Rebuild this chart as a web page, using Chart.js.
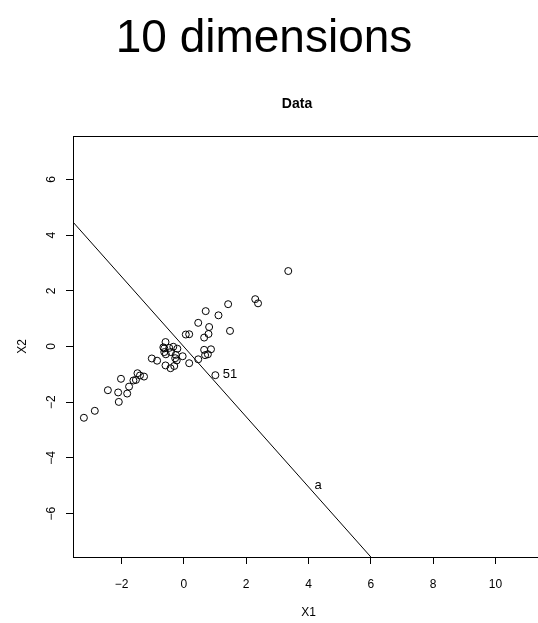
<!DOCTYPE html>
<html lang="en">

<head>
    <meta charset="UTF-8">
    <title>10 dimensions</title>
    <script src="https://cdn.jsdelivr.net/npm/chart.js"></script>
    <style>
        html, body {
            margin: 0;
            padding: 0;
            background-color: #ffffff;
            overflow: hidden;
            width: 538px;
            height: 623px;
        }
        
        #chart {
            display: block;
        }
    </style>
</head>

<body>
    <canvas id="chart" width="560" height="623"></canvas>

    <script>
        // Data
        const ptX = [-3.21, -2.86, -2.44, -2.11, -2.09, -2.02, -1.82, -1.76, -1.62, -1.54,
            -1.49, -1.41, -1.28, -1.03, -0.86, -0.59, -0.66, -0.63, -0.47, -0.34,
            -0.21, -0.58, -0.26, -0.04, -0.28, -0.23, -0.59, -0.43, -0.31, 0.17,
            -0.42, 0.06, 0.17, 0.46, 0.81, 0.65, 0.79, 1.48, 0.70, 1.11,
            1.42, 0.46, 0.65, 0.87, 0.68, 0.77, 2.29, 2.38, 3.35, -0.63, 1.01];
        const ptY = [-2.56, -2.31, -1.57, -1.65, -1.99, -1.16, -1.69, -1.44, -1.22, -1.20,
            -0.96, -1.04, -1.08, -0.43, -0.51, 0.16, -0.03, -0.07, -0.05, -0.01,
            -0.08, -0.28, -0.30, -0.35, -0.42, -0.50, -0.68, -0.78, -0.70, -0.60,
            -0.20, 0.43, 0.44, 0.85, 0.70, 0.32, 0.45, 0.56, 1.27, 1.12,
            1.52, -0.46, -0.12, -0.10, -0.31, -0.28, 1.70, 1.55, 2.71, -0.20, -1.03];

        // the separating line "a"
        const lineX = [-3.6, 6.05];
        const lineY = [4.52, -7.62];

        // text labels in the plot
        const noteText = ['51', 'a'];
        const noteX = [1.48, 4.31];
        const noteY = [-1.02, -5.0];

        const xTicks = [-2, 0, 2, 4, 6, 8, 10];
        const yTicks = [-6, -4, -2, 0, 2, 4, 6];
        const xRange = [-3.56, 11.56];
        const yRange = [-7.56, 7.56];

        const FONT = '"Liberation Sans", Arial, Helvetica, sans-serif';
        const minus = v => String(v).replace('-', '\u2212');

        // titles, box and point labels
        const extras = {
            id: 'extras',
            afterDraw(chart) {
                const ctx = chart.ctx;
                const a = chart.chartArea;
                const xs = chart.scales.x;
                const ys = chart.scales.y;
                ctx.save();
                ctx.strokeStyle = '#000';
                ctx.lineWidth = 1;
                ctx.strokeRect(Math.round(a.left) + 0.5, Math.round(a.top) + 0.5,
                    Math.round(a.right - a.left), Math.round(a.bottom - a.top));

                ctx.fillStyle = '#000';
                ctx.textAlign = 'center';
                ctx.textBaseline = 'alphabetic';
                ctx.font = '46px ' + FONT;
                ctx.fillText('10 dimensions', 264, 52);

                ctx.font = 'bold 14px ' + FONT;
                ctx.textBaseline = 'middle';
                ctx.fillText('Data', 297, 104);

                ctx.font = '12px ' + FONT;
                ctx.fillText('X1', (a.left + a.right) / 2, 613);
                ctx.save();
                ctx.translate(23, (a.top + a.bottom) / 2);
                ctx.rotate(-Math.PI / 2);
                ctx.fillText('X2', 0, 0);
                ctx.restore();

                ctx.font = '13px ' + FONT;
                noteText.forEach((t, i) => {
                    ctx.fillText(t, xs.getPixelForValue(noteX[i]), ys.getPixelForValue(noteY[i]));
                });
                ctx.restore();
            }
        };

        const tickGrid = {
            display: true,
            drawOnChartArea: false,
            drawTicks: true,
            tickLength: 7,
            color: '#000',
            lineWidth: 1
        };

        new Chart(document.getElementById('chart'), {
            type: 'scatter',
            data: {
                datasets: [{
                    data: ptX.map((x, i) => ({ x: x, y: ptY[i] })),
                    pointStyle: 'circle',
                    pointRadius: 3.5,
                    pointBorderWidth: 1,
                    borderColor: '#000',
                    backgroundColor: 'rgba(0,0,0,0)',
                    showLine: false
                }, {
                    type: 'line',
                    data: lineX.map((x, i) => ({ x: x, y: lineY[i] })),
                    borderColor: '#000',
                    borderWidth: 1,
                    pointRadius: 0,
                    fill: false
                }]
            },
            options: {
                responsive: false,
                animation: false,
                events: [],
                layout: {
                    padding: { top: 136, right: 16, left: 0, bottom: 0 }
                },
                plugins: {
                    legend: { display: false },
                    tooltip: { enabled: false }
                },
                scales: {
                    x: {
                        type: 'linear',
                        min: xRange[0],
                        max: xRange[1],
                        grid: tickGrid,
                        border: { display: false },
                        afterFit: s => { s.height = 66; },
                        afterBuildTicks: s => { s.ticks = xTicks.map(v => ({ value: v })); },
                        ticks: {
                            color: '#000',
                            padding: 13,
                            maxRotation: 0,
                            autoSkip: false,
                            font: { family: FONT, size: 12 },
                            callback: v => minus(v)
                        }
                    },
                    y: {
                        type: 'linear',
                        min: yRange[0],
                        max: yRange[1],
                        grid: tickGrid,
                        border: { display: false },
                        afterFit: s => { s.width = 73; },
                        afterBuildTicks: s => { s.ticks = yTicks.map(v => ({ value: v })); },
                        ticks: {
                            color: '#000',
                            padding: 7,
                            crossAlign: 'center',
                            minRotation: 90,
                            maxRotation: 90,
                            autoSkip: false,
                            font: { family: FONT, size: 12 },
                            callback: v => minus(v)
                        }
                    }
                }
            },
            plugins: [extras]
        });
    </script>
</body>

</html>
